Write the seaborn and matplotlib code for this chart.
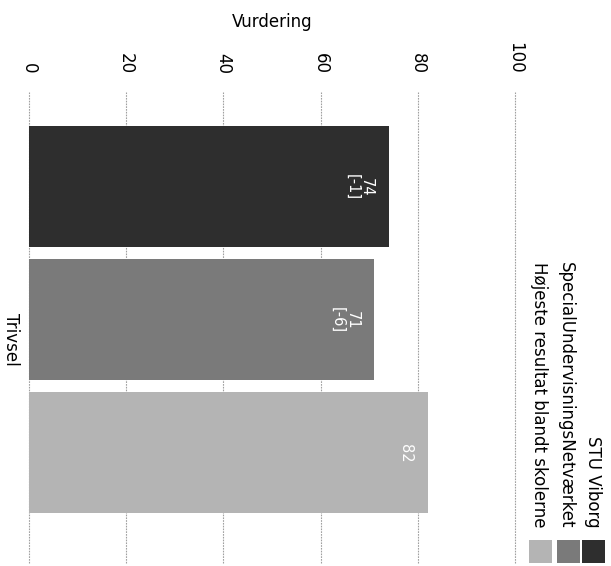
import matplotlib
matplotlib.use("Agg")
import matplotlib.pyplot as plt
from matplotlib.patches import Rectangle
import seaborn as sns
import pandas as pd

categories = ["Trivsel"]
series = ["STU Viborg", "SpecialUndervisningsNetværket", "Højeste resultat blandt skolerne"]
values = [74, 71, 82]
bar_texts = ["74\n[-1]", "71\n[-6]", "82"]
x_ticks = [0, 20, 40, 60, 80, 100]
colors = ["#2e2e2e", "#7a7a7a", "#b4b4b4"]

plt.rcParams["font.family"] = ["DejaVu Sans"]

W, H = 611, 566
fig = plt.figure(figsize=(W / 100, H / 100), dpi=100)
ax = fig.add_axes([29 / W, 1 - 563 / H, (515 - 29) / W, (563 - 92) / H])

df = pd.DataFrame({
    "Kategori": categories * len(series),
    "Serie": series,
    "Vurdering": values,
})

sns.barplot(data=df, y="Kategori", x="Vurdering", hue="Serie", hue_order=series,
            palette=colors, orient="h", width=0.847, gap=0.09, saturation=1,
            legend=False, ax=ax, linewidth=0)

ax.set_xlim(0, 100)
ax.set_ylim(0.516, -0.484)
ax.xaxis.tick_top()
ax.xaxis.set_label_position("top")
ax.set_xticks(x_ticks)
ax.set_xticklabels([str(t) for t in x_ticks])
ax.tick_params(axis="x", length=0, pad=13, labelsize=12, labelrotation=-90)
ax.tick_params(axis="y", length=0, pad=6.5, labelsize=12, labelrotation=-90)
ax.set_xlabel("Vurdering", fontsize=12, labelpad=11)
ax.set_ylabel("")
for s in ax.spines.values():
    s.set_visible(False)
ax.grid(axis="x", color="#a0a0a0", linestyle=(0, (1.5, 1)), linewidth=0.8)
ax.grid(axis="y", visible=False)
for gl in ax.get_xgridlines():
    gl.set_clip_on(False)
ax.set_axisbelow(True)

for container, txt in zip(ax.containers, bar_texts):
    for patch in container:
        xe = patch.get_x() + patch.get_width()
        yc = patch.get_y() + patch.get_height() / 2
        ax.annotate(txt, xy=(xe, yc), xytext=(-10.5, 0), textcoords="offset points",
                    rotation=-90, ha="right", va="center", multialignment="center",
                    color="white", fontsize=10.5, linespacing=0.95)

# legend (rotated, drawn manually)
leg_x = [593, 566, 539]
sw_x = [582, 557, 529]
for name, col, tx, sx in zip(series, colors, leg_x, sw_x):
    fig.text(tx / W, 1 - 528 / H, name, rotation=-90, ha="center", va="bottom",
             fontsize=12)
    fig.add_artist(Rectangle((sx / W, 1 - 563 / H), 23 / W, 23 / H,
                             transform=fig.transFigure, facecolor=col,
                             edgecolor="none"))

fig.savefig("out.png", dpi=100)
